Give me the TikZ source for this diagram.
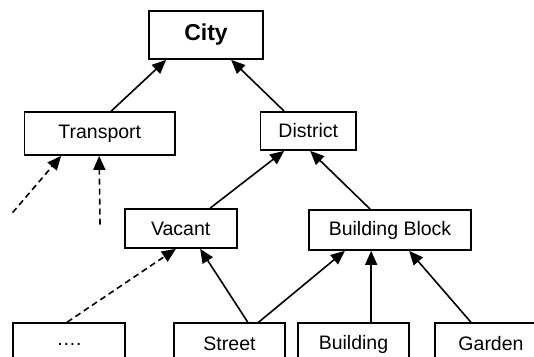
\documentclass[tikz,border=0pt]{standalone}
\usepackage{fontspec}
\setmainfont{Liberation Sans}
\usetikzlibrary{arrows.meta,calc}
\begin{document}
\begin{tikzpicture}[x=1pt,y=-1pt,
  box/.style={draw,line width=1.7pt,inner sep=0pt,font=\fontsize{19.5}{22}\selectfont},
  link/.style={line width=1.6pt,-{Triangle[length=14pt,width=12pt]}},
  dlink/.style={link,dash pattern=on 6pt off 4pt}]
\clip (0,0) rectangle (534,356);
\fill[white] (0,0) rectangle (534,356);
\node[box,minimum width=114pt,minimum height=48pt,font=\fontsize{23}{26}\selectfont\bfseries] (city) at (206,35) {City};
\node[box,minimum width=150.5pt,minimum height=43pt] (transport) at (99.75,133.5) {Transport};
\node[box,minimum width=95.5pt,minimum height=38pt] (district) at (308.25,131) {District};
\node[box,minimum width=112pt,minimum height=39pt] (vacant) at (180.7,228.5) {Vacant};
\node[box,minimum width=162pt,minimum height=40pt] (bblock) at (390,230) {Building Block};
\node[box,minimum width=112pt,minimum height=42pt] (dots) at (69,344) {….};
\node[box,minimum width=111pt,minimum height=42pt] (street) at (229.5,344) {Street};
\node[box,minimum width=111pt,minimum height=42pt] (building) at (353.5,344) {Building};
\node[box,minimum width=112pt,minimum height=42pt] (garden) at (491,344) {Garden};
\coordinate (t1) at (12.6,212.6);
\coordinate (t2) at (100,224.5);
\draw[link] ($(transport.north west)+(87.5,0)$) -- ($(city.south west)+(18,0)$);
\draw[link] ($(district.north west)+(24.5,0)$) -- ($(city.south west)+(83,0)$);
\draw[link] ($(vacant.north west)+(86.3,0)$) -- ($(district.south west)+(24.5,0)$);
\draw[link] ($(bblock.north west)+(62,0)$) -- ($(district.south west)+(50.5,0)$);
\draw[link] ($(street.north west)+(74.6,0)$) -- ($(vacant.south west)+(76.3,0)$);
\draw[link] ($(street.north west)+(85.5,0)$) -- ($(bblock.south west)+(36.7,0)$);
\draw[link] ($(building.north west)+(74,0)$) -- ($(bblock.south west)+(63,0)$);
\draw[link] ($(garden.north west)+(36.7,0)$) -- ($(bblock.south west)+(101,0)$);
\draw[dlink] ($(dots.north west)+(55,0)$) -- ($(vacant.south west)+(52,0)$);
\draw[dlink] (t1) -- ($(transport.south west)+(37.5,0)$);
\draw[dlink] (t2) -- ($(transport.south west)+(75.5,0)$);
\end{tikzpicture}
\end{document}
